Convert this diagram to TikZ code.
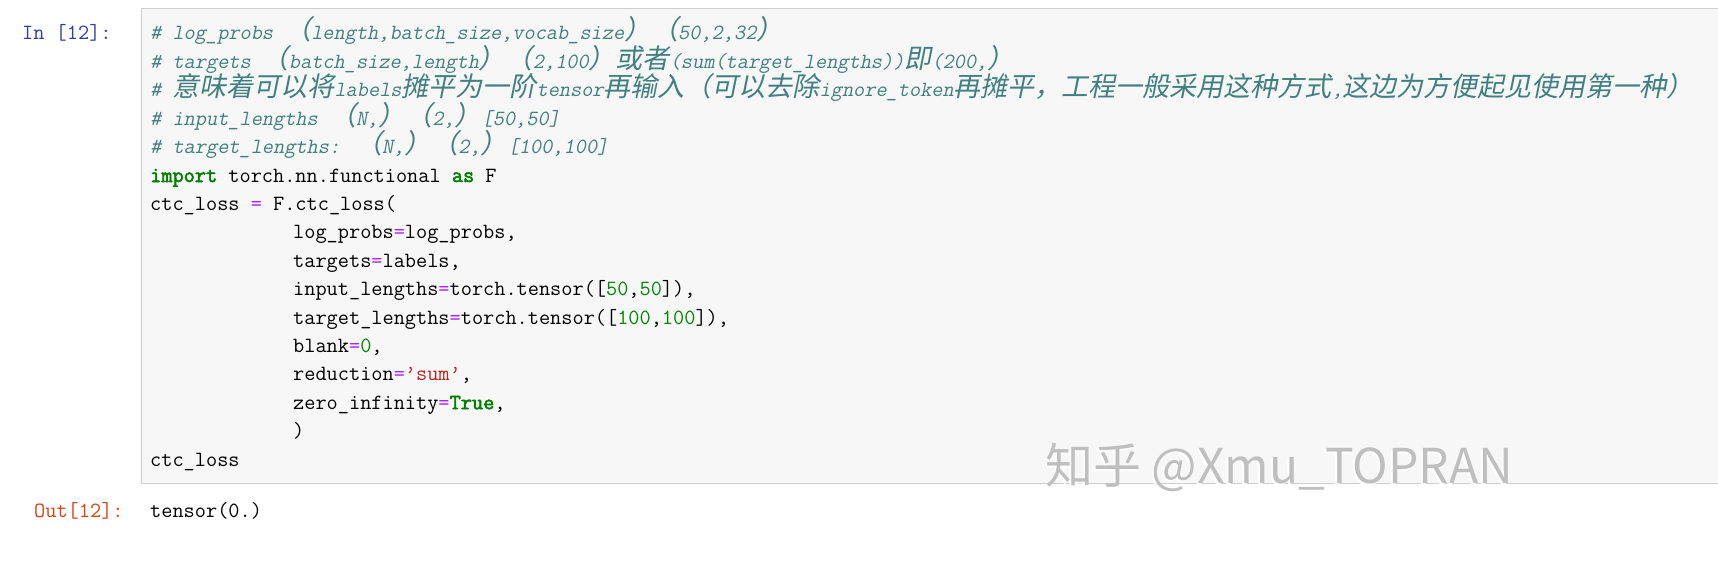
\documentclass[tikz,border=0pt]{standalone}
\usepackage{fontspec}
\setmonofont{Latin Modern Mono}
\newfontfamily\ttsl[FakeSlant=0.2]{Latin Modern Mono}
\newfontfamily\ttbf[FakeBold=2.5]{Latin Modern Mono}
\newfontfamily\zhfont[FakeSlant=0.2]{Noto Sans CJK SC}
\newfontfamily\zhup{Noto Sans CJK SC}
\newcommand\zh[1]{{\zhfont\fontsize{27}{28}\selectfont #1}}
\definecolor{cmtc}{HTML}{408080}
\definecolor{kwc}{HTML}{008000}
\definecolor{numc}{HTML}{008800}
\definecolor{strc}{HTML}{BA2121}
\definecolor{opc}{HTML}{AA22FF}
\definecolor{inc}{HTML}{303F9F}
\definecolor{outc}{HTML}{D84315}
\definecolor{cellbg}{HTML}{F7F7F7}
\definecolor{cellbd}{HTML}{CFCFCF}
\newcommand\op{\textcolor{opc}{=}}
\newcommand\nm[1]{\textcolor{numc}{#1}}
\newcommand\kw[1]{\textcolor{kwc}{\ttbf #1}}
\begin{document}
\begin{tikzpicture}[x=1pt,y=-1pt,
  code/.style={anchor=base west,inner sep=0pt,font=\ttfamily\fontsize{21.7}{28}\selectfont},
  cmt/.style={anchor=base west,inner sep=0pt,text=cmtc,font=\ttsl\fontsize{21.7}{28}\selectfont}]
\useasboundingbox (0,0) rectangle (1718,578);
\fill[white] (0,0) rectangle (1718,578);
\draw[fill=cellbg,draw=cellbd] (141,8) rectangle (1718,483);
\node[code,text=inc] (in) at (22,40) {In [12]:};
\node[code,text=outc] (out) at (34,517) {Out[12]:};
\node[cmt] (l1) at (150,40) {\# log\_probs \zh{（}length,batch\_size,vocab\_size\zh{）（}50,2,32\zh{）}};
\node[cmt] (l2) at (150,68.4) {\# targets \zh{（}batch\_size,length\zh{）（}2,100\zh{）或者}(sum(target\_lengths))\zh{即}(200,\zh{）}};
\node[cmt] (l3) at (150,96.8) {\# \zh{意味着可以将}labels\zh{摊平为一阶}tensor\zh{再输入（可以去除}ignore\_token\zh{再摊平，工程一般采用这种方式},\zh{这边为方便起见使用第一种）}};
\node[cmt] (l4) at (150,125.2) {\# input\_lengths \zh{（}N,\zh{）（}2,\zh{）}[50,50]};
\node[cmt] (l5) at (150,153.6) {\# target\_lengths: \zh{（}N,\zh{）（}2,\zh{）}[100,100]};
\node[code] (l6) at (150,182) {\kw{import} torch.nn.functional \kw{as} F};
\node[code] (l7) at (150,210.4) {ctc\_loss \op{} F.ctc\_loss(};
\node[code] (l8) at (293,238.8) {log\_probs\op{}log\_probs,};
\node[code] (l9) at (293,267.2) {targets\op{}labels,};
\node[code] (l10) at (293,295.6) {input\_lengths\op{}torch.tensor([\nm{50},\nm{50}]),};
\node[code] (l11) at (293,324) {target\_lengths\op{}torch.tensor([\nm{100},\nm{100}]),};
\node[code] (l12) at (293,352.4) {blank\op{}\nm{0},};
\node[code] (l13) at (293,380.8) {reduction\op{}\textcolor{strc}{’sum’},};
\node[code] (l14) at (293,409.2) {zero\_infinity\op{}\kw{True},};
\node[code] (l15) at (293,437.6) {)};
\node[code] (l16) at (150,466) {ctc\_loss};
\node[code] (res) at (150,517) {tensor(0.)};
\node[anchor=base west,inner sep=0pt,text=white,font=\zhup\fontsize{48}{50}\selectfont] (wm2) at (1043,485) {知乎 @Xmu\_TOPRAN};
\node[anchor=base west,inner sep=0pt,text=black!25,font=\zhup\fontsize{48}{50}\selectfont] (wm) at (1045,483) {知乎 @Xmu\_TOPRAN};
\end{tikzpicture}
\end{document}
